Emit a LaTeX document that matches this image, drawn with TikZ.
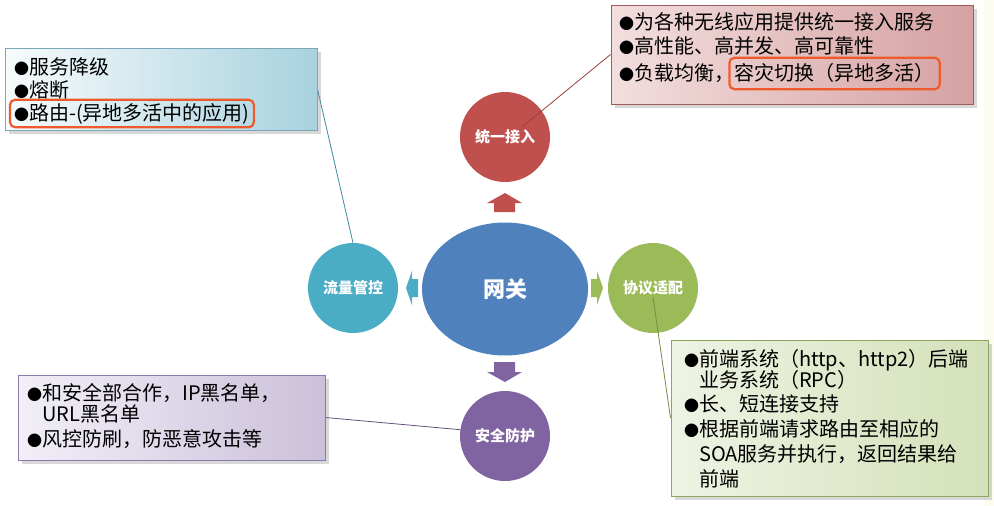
\documentclass[tikz,border=0pt]{standalone}
\usepackage{fontspec}
\setmainfont{Noto Sans CJK SC}
\usetikzlibrary{shapes.geometric,shadows,fit,calc}

\definecolor{hubblue}{HTML}{4F81BD}
\definecolor{accessred}{HTML}{C0504D}
\definecolor{flowteal}{HTML}{4BACC6}
\definecolor{protogreen}{HTML}{9BBB59}
\definecolor{securepurple}{HTML}{8064A2}
\definecolor{flowpale}{HTML}{F7FBFC}
\definecolor{flowdeep}{HTML}{A8D2DF}
\definecolor{flowedge}{HTML}{7BA7B8}
\definecolor{accesspale}{HTML}{F3DEDE}
\definecolor{accessdeep}{HTML}{D5A1A2}
\definecolor{accessedge}{HTML}{A05C5B}
\definecolor{securepale}{HTML}{F2EFF7}
\definecolor{securedeep}{HTML}{CBC0DA}
\definecolor{secureedge}{HTML}{8B7AAE}
\definecolor{protopale}{HTML}{EEF3E3}
\definecolor{protodeep}{HTML}{D4E1B9}
\definecolor{protoedge}{HTML}{8CA55A}
\definecolor{hiorange}{HTML}{EE5A2C}
\definecolor{paper}{HTML}{FCFCF0}

\pgfdeclarelayer{bubbles}
\pgfdeclarelayer{links}
\pgfsetlayers{bubbles,links,main}

\newcommand{\dotmark}{{\fontsize{15}{15}\selectfont ●}}

\begin{document}
\begin{tikzpicture}[x=1pt,y=-1pt]
  \tikzstyle{bubble}=[circle, minimum size=90pt, inner sep=0pt, text=white,
    font=\bfseries\fontsize{15}{18}\selectfont]
  \tikzstyle{note}=[rectangle, line width=1pt,
    drop shadow={opacity=0.3, shadow xshift=4pt, shadow yshift=-4pt}]
  \tikzstyle{entry}=[anchor=base west, inner sep=0pt, text height=17pt,
    text depth=4pt, font=\fontsize{20}{24}\selectfont]
  \tikzstyle{hilite}=[draw=hiorange, line width=2.2pt, rounded corners=5pt,
    inner xsep=4pt, inner ysep=3pt]
  \tikzstyle{link}=[line width=0.8pt]

  \useasboundingbox (0,0) rectangle (994,506);

  \begin{pgfonlayer}{bubbles}
    \fill[white] (0,0) rectangle (994,506);
    \fill[paper] (984,0) rectangle (994,506);
    % block arrows round the hub
    \fill[accessred] (494,212) -- (494,203) -- (487,203) -- (505,193)
      -- (522,203) -- (515,203) -- (515,212) -- cycle;
    \fill[securepurple] (494,362) -- (515,362) -- (515,372) -- (522,372)
      -- (505,382) -- (487,372) -- (494,372) -- cycle;
    \fill[flowteal] (406,288) -- (412,271) -- (412,279) -- (418,279)
      -- (418,297) -- (412,297) -- (412,305) -- cycle;
    \fill[protogreen] (603,288) -- (597,271) -- (597,279) -- (591,279)
      -- (591,297) -- (597,297) -- (597,305) -- cycle;

    \node[ellipse, fill=hubblue, minimum width=166pt, minimum height=133pt,
      text=white, font=\bfseries\fontsize{22}{26}\selectfont] (hub) at (505,289) {网关};
    \node[bubble, fill=accessred]    (access)   at (505,137) {统一接入};
    \node[bubble, fill=flowteal]     (flow)     at (353,288) {流量管控};
    \node[bubble, fill=protogreen]   (proto)    at (653,288) {协议适配};
    \node[bubble, fill=securepurple] (security) at (505,436) {安全防护};
  \end{pgfonlayer}

  % flow control
  \node[note, draw=flowedge, left color=flowpale, right color=flowdeep,
    minimum width=312pt, minimum height=82pt] (fbox) at (161,89) {};
  \node[entry] (fc1) at (14,74)  {\dotmark 服务降级};
  \node[entry] (fc2) at (14,97)  {\dotmark 熔断};
  \node[entry] (fc3) at (14,120) {\dotmark 路由-(异地多活中的应用)};
  \node[hilite, fit=(fc3)] (fchl) {};

  % unified access
  \node[note, draw=accessedge, left color=accesspale, right color=accessdeep,
    minimum width=362pt, minimum height=99pt] (acbox) at (792,54.5) {};
  \node[entry] (ac1) at (619,30) {\dotmark 为各种无线应用提供统一接入服务};
  \node[entry] (ac2) at (619,53) {\dotmark 高性能、高并发、高可靠性};
  \node[entry] (ac3) at (619,80) {\dotmark 负载均衡，};
  \node[entry] (ac3b) at (ac3.base east) {容灾切换（异地多活）};
  \node[hilite, inner xsep=5pt, inner ysep=5pt, fit=(ac3b)] (achl) {};

  % security
  \node[note, draw=secureedge, left color=securepale, right color=securedeep,
    minimum width=307pt, minimum height=85pt] (sbox) at (171.5,417.5) {};
  \node[entry] (sp1) at (27,400) {\dotmark 和安全部合作，IP黑名单，};
  \node[entry] (sp2) at (42,421) {URL黑名单};
  \node[entry] (sp3) at (27,446) {\dotmark 风控防刷，防恶意攻击等};

  % protocol adaption
  \node[note, draw=protoedge, left color=protopale, right color=protodeep,
    minimum width=317pt, minimum height=156pt] (pbox) at (829.5,418) {};
  \node[entry] (pa1) at (684,366) {\dotmark 前端系统（http、http2）后端};
  \node[entry] (pa2) at (699,387) {业务系统（RPC）};
  \node[entry] (pa3) at (684,411) {\dotmark 长、短连接支持};
  \node[entry] (pa4) at (684,436) {\dotmark 根据前端请求路由至相应的};
  \node[entry] (pa5) at (699,461) {SOA服务并执行，返回结果给};
  \node[entry] (pa6) at (699,486) {前端};

  \begin{pgfonlayer}{links}
    \draw[link, draw=flowteal!80!black] (flow.north) -- (fbox.east);
    \draw[link, draw=accessred!80!black] (acbox.west) -- ($(access.center)+(17,-10)$);
    \draw[link, draw=securepurple!80!black] (sbox.east) -- (security.172);
    \draw[link, draw=protogreen!75!black] ($(proto.center)+(0,9)$) -- (pbox.west);
  \end{pgfonlayer}
\end{tikzpicture}
\end{document}
